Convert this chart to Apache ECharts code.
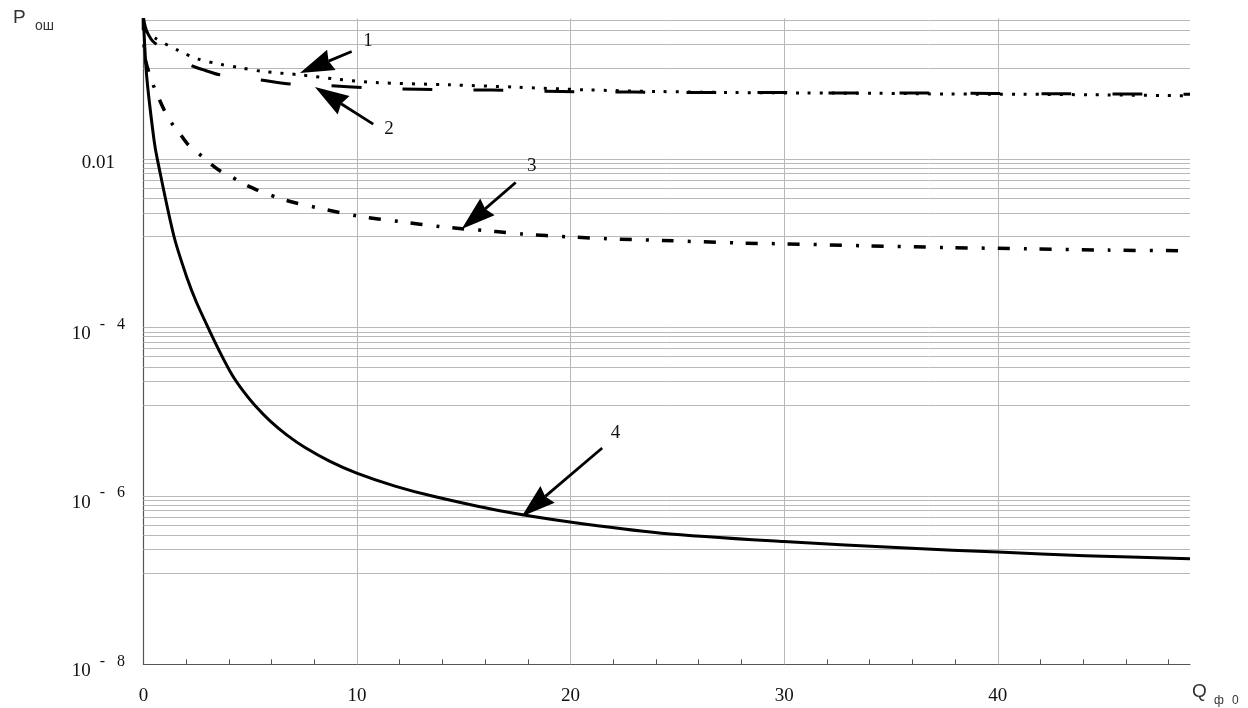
<!DOCTYPE html>
<html>
<head>
<meta charset="utf-8">
<script src="https://cdn.jsdelivr.net/npm/echarts@6/dist/echarts.min.js"></script>
<style>
  html, body { margin: 0; padding: 0; background: #ffffff; }
  #chart { width: 1248px; height: 708px; }
</style>
</head>
<body>
<div id="chart"></div>
<script>
// Error probability P_ош versus Q_ф0, four receiver variants ([Q, P] pairs)
const curve1 = [[0,0.47],[0.15,0.327],[0.54,0.274],[1.63,0.195],[2.57,0.154],[3.59,0.134],[4.44,0.1226],[5.61,0.1097],[7.33,0.1002],[9.12,0.0885],[10.84,0.0812],[14.34,0.0762],[17.4,0.0716],[20.67,0.0665],[24.1,0.0635],[27.5,0.0618],[30.88,0.0609],[34.3,0.0605],[37.7,0.0592],[41.1,0.0590],[44.5,0.0580],[49,0.0565]];
const curve2 = [[0,0.47],[0.17,0.325],[0.54,0.238],[2.18,0.132],[2.88,0.1135],[3.58,0.1002],[5.46,0.0874],[6.94,0.0778],[8.82,0.0742],[10.3,0.0708],[12.9,0.0673],[16.3,0.066],[19.6,0.0635],[23.0,0.0625],[26.4,0.0618],[29.6,0.0618],[33.1,0.0608],[36.4,0.0608],[39.8,0.0601],[43.1,0.0597],[46.5,0.0592],[49,0.059]];
const curve3 = [[0,0.47],[0.08,0.16],[0.46,0.0762],[0.74,0.0516],[1.01,0.0367],[1.32,0.0268],[1.71,0.020],[2.10,0.0148],[2.57,0.0118],[3.07,0.0091],[3.63,0.00713],[4.10,0.00622],[4.68,0.00509],[5.30,0.00432],[5.82,0.00384],[6.43,0.00338],[7.10,0.00303],[9.98,0.00212],[12.01,0.00181],[13.89,0.00158],[14.9,0.00149],[16.49,0.00138],[17.71,0.00129],[19.97,0.00119],[22.27,0.00112],[24.32,0.00108],[28.06,0.001006],[29.98,0.000986],[33.83,0.000934],[37.57,0.000891],[41.41,0.000861],[45.16,0.000830],[49,0.000815]];
const curve4 = [[0,0.47],[0.155,0.0957],[0.496,0.0169],[0.651,0.01],[1.433,0.001204],[2.074,3.68e-4],[2.463,2.05e-4],[3.038,9.84e-5],[3.586,5.08e-5],[4.148,2.75e-5],[4.686,1.742e-5],[5.225,1.185e-5],[5.927,7.79e-6],[6.723,5.27e-6],[7.566,3.76e-6],[8.736,2.576e-6],[9.986,1.866e-6],[11.779,1.307e-6],[13.572,9.89e-7],[16.69,6.65e-7],[19.97,4.89e-7],[24.26,3.61e-7],[29.99,2.87e-7],[35.73,2.40e-7],[40.01,2.15e-7],[44.08,1.95e-7],[49,1.79e-7]];

// Axis ticks, labels and grid levels
const xLabelValues = [0, 10, 20, 30, 40];
const xGridValues = [10, 20, 30, 40];
const xTickValues = [0, 2, 4, 6, 8, 10, 12, 14, 16, 18, 20, 22, 24, 26, 28, 30, 32, 34, 36, 38, 40, 42, 44, 46, 48];
const yLabelValues = [1e-8, 1e-6, 1e-4, 0.01];
const yMajorGrid = [1e-6, 1e-4, 0.01];
const yMinorGrid = [
  1.2e-7, 2.3e-7, 3.4e-7, 4.5e-7, 5.6e-7, 6.7e-7, 7.8e-7, 8.9e-7,
  1.2e-5, 2.3e-5, 3.4e-5, 4.5e-5, 5.6e-5, 6.7e-5, 7.8e-5, 8.9e-5,
  0.0012, 0.0023, 0.0034, 0.0045, 0.0056, 0.0067, 0.0078, 0.0089,
  0.12, 0.23, 0.34, 0.45
];

// Numbered pointers: arrow tip on the curve, tail, and number position
const pointers = [
  { text: '1', tip: [7.33, 0.1051],   tail: [9.75, 0.1897],   at: [10.51, 0.2506] },
  { text: '2', tip: [8.03, 0.0716],   tail: [10.76, 0.0260],  at: [11.5, 0.0229] },
  { text: '3', tip: [14.9, 0.001475], tail: [17.43, 0.00527], at: [18.18, 0.00832] },
  { text: '4', tip: [17.71, 5.69e-7], tail: [21.48, 3.70e-6], at: [22.1, 5.51e-6] }
];

const SERIF = 'Liberation Serif';
const SANS = 'Liberation Sans';
const INK = '#111111';

const chart = echarts.init(document.getElementById('chart'), null, { renderer: 'canvas' });

function curveSeries(name, data, lineType, width) {
  return {
    name: name,
    type: 'line',
    data: data,
    showSymbol: false,
    symbol: 'none',
    smooth: 0.3,
    z: 3,
    clip: true,
    lineStyle: { color: '#000000', width: width, type: lineType, cap: 'butt', join: 'round' },
    silent: true
  };
}

const allGrid = yMajorGrid.concat(yMinorGrid);
const gridData = allGrid.map(function (v) { return { yAxis: v }; })
  .concat(xGridValues.map(function (v) { return { xAxis: v }; }));

chart.setOption({
  animation: false,
  backgroundColor: '#ffffff',
  grid: { left: 143.4, right: 58, top: 18.3, bottom: 43.7, containLabel: false },
  xAxis: [{
    type: 'value',
    min: 0,
    max: 49,
    interval: 10,
    axisLine: { show: true, lineStyle: { color: '#555555', width: 1.2 } },
    axisTick: { show: true, inside: true, length: 5, customValues: xTickValues, lineStyle: { color: '#555555', width: 1 } },
    axisLabel: {
      show: true, customValues: xLabelValues, margin: 22,
      fontFamily: SERIF, fontSize: 19, color: INK
    },
    splitLine: { show: false }
  }],
  yAxis: [{
    type: 'log',
    logBase: 10,
    min: 1e-8,
    max: 0.47,
    position: 'left',
    axisLine: { show: true, onZero: false, lineStyle: { color: '#555555', width: 1.2 } },
    axisTick: { show: true, inside: true, length: 4, customValues: allGrid, lineStyle: { color: '#555555', width: 1 } },
    splitLine: { show: false },
    axisLabel: {
      show: true,
      customValues: yLabelValues,
      align: 'center',
      margin: 45,
      formatter: function (v) {
        const e = Math.round(Math.log10(v));
        if (e === -2) return '{d|0.01}';
        return '{b|10}{m|-}{e|' + (-e) + '}';
      },
      rich: {
        d: { fontFamily: SERIF, fontSize: 19, color: INK, padding: [7, 0, 0, 0] },
        b: { fontFamily: SERIF, fontSize: 19, color: INK, padding: [14, 0, 0, 0] },
        m: { fontFamily: SERIF, fontSize: 16, color: INK, padding: [0, 0, 6, 9] },
        e: { fontFamily: SERIF, fontSize: 16, color: INK, padding: [0, 0, 6, 12] }
      }
    }
  }, {
    type: 'log',
    logBase: 10,
    min: 1e-8,
    max: 0.47,
    position: 'left',
    axisLine: { show: false },
    axisTick: { show: true, inside: true, length: 8, customValues: yMajorGrid, lineStyle: { color: '#555555', width: 1 } },
    axisLabel: { show: false },
    splitLine: { show: false }
  }],
  series: [
    {
      name: 'grid',
      type: 'line',
      data: [],
      z: 1,
      silent: true,
      markLine: {
        z: 1,
        silent: true,
        animation: false,
        precision: 15,
        symbol: 'none',
        label: { show: false },
        lineStyle: { color: '#b8b8b8', width: 1, type: 'solid' },
        data: gridData
      }
    },
    curveSeries('1', curve1, [3, 9], 3),
    curveSeries('2', curve2, [30, 41], 3),
    curveSeries('3', curve3, [12, 14, 3, 13], 3.5),
    curveSeries('4', curve4, 'solid', 3)
  ]
});

// Pointer arrows and their numbers, placed through the chart's coordinate system
function px(p) {
  return chart.convertToPixel({ xAxisIndex: 0, yAxisIndex: 0 }, p);
}

const graphics = [];
const HEAD_LEN = 34, HEAD_W = 22, NOTCH = 3;
pointers.forEach(function (a) {
  const tip = px(a.tip), tail = px(a.tail), at = px(a.at);
  const dx = tail[0] - tip[0], dy = tail[1] - tip[1];
  const len = Math.sqrt(dx * dx + dy * dy);
  const ux = dx / len, uy = dy / len;      // unit vector tip -> tail
  const nx = -uy, ny = ux;                 // normal
  const bx = tip[0] + ux * HEAD_LEN, by = tip[1] + uy * HEAD_LEN;
  const kx = tip[0] + ux * (HEAD_LEN - NOTCH), ky = tip[1] + uy * (HEAD_LEN - NOTCH);
  graphics.push({
    type: 'line', silent: true, z: 10,
    shape: { x1: tail[0], y1: tail[1], x2: kx, y2: ky },
    style: { stroke: '#000000', lineWidth: 2.8 }
  });
  graphics.push({
    type: 'polygon', silent: true, z: 10,
    shape: { points: [
      [tip[0], tip[1]],
      [bx + nx * HEAD_W / 2, by + ny * HEAD_W / 2],
      [kx, ky],
      [bx - nx * HEAD_W / 2, by - ny * HEAD_W / 2]
    ] },
    style: { fill: '#000000' }
  });
  graphics.push({
    type: 'text', silent: true, z: 10,
    x: at[0], y: at[1],
    style: { text: a.text, fontFamily: SERIF, fontSize: 19, fill: INK, align: 'center', verticalAlign: 'middle' }
  });
});

// Axis names
graphics.push({ type: 'text', silent: true, x: 13, y: 8, style: { text: 'P', fontFamily: SANS, fontSize: 19, fill: '#333333' } });
graphics.push({ type: 'text', silent: true, x: 35, y: 19, style: { text: 'ош', fontFamily: SANS, fontSize: 14, fill: '#333333' } });
graphics.push({ type: 'text', silent: true, x: 1192, y: 682, style: { text: 'Q', fontFamily: SANS, fontSize: 19, fill: '#333333' } });
graphics.push({ type: 'text', silent: true, x: 1214, y: 695, style: { text: 'ф', fontFamily: SANS, fontSize: 12, fill: '#333333' } });
graphics.push({ type: 'text', silent: true, x: 1232, y: 695, style: { text: '0', fontFamily: SANS, fontSize: 12, fill: '#333333' } });

chart.setOption({ graphic: graphics });
</script>
</body>
</html>
